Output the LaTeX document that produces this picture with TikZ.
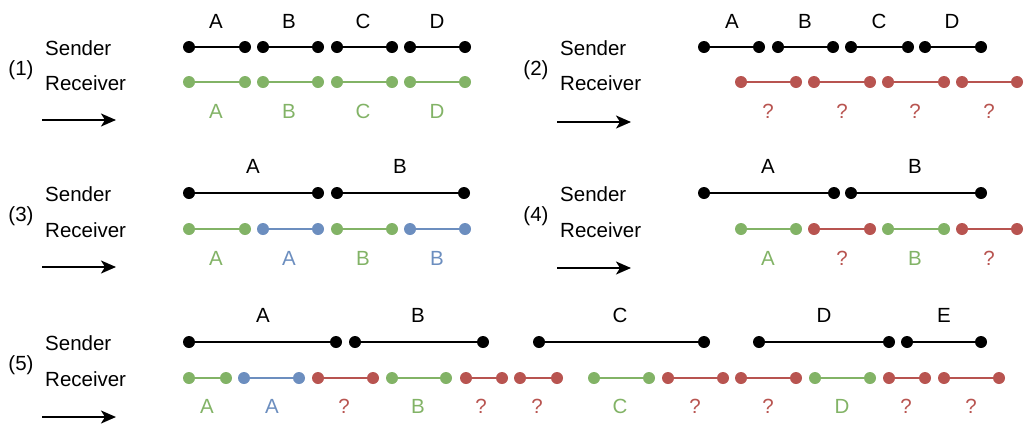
\documentclass[tikz,border=0pt]{standalone}
\usepackage{fontspec}
\setmainfont{Liberation Sans}
\usetikzlibrary{arrows.meta}
\definecolor{cgreen}{HTML}{82B366}
\definecolor{cblue}{HTML}{6C8EBF}
\definecolor{cred}{HTML}{B85450}
\tikzset{
  dotnode/.style={circle,inner sep=0pt,minimum size=12pt,draw=none},
  segline/.style={line width=1.6pt},
  txt/.style={font=\fontsize{20.5}{24}\selectfont,inner sep=0pt,anchor=base},
  rowtxt/.style={txt,anchor=base west},
  timearrow/.style={line width=1.8pt,-{Stealth[length=15pt,width=13pt,inset=4pt]}},
}
\newcommand\seg[5]{%
  \node[dotnode,fill=#5] (#1a) at (#2,#4) {};
  \node[dotnode,fill=#5] (#1b) at (#3,#4) {};
  \draw[segline,#5] (#1a) -- (#1b);
}
\newcommand\panel[6]{% id, label, textx, sendery, receivery, arrow y
  \node[txt] (num#1) at (#3-24,#4+28) {#2};
  \node[rowtxt] (snd#1) at (#3,#4+8) {Sender};
  \node[rowtxt] (rcv#1) at (#3,#5+8) {Receiver};
  \coordinate (arA#1) at (#3-3,#6);
  \coordinate (arB#1) at (#3+71,#6);
  \draw[timearrow] (arA#1) -- (arB#1);
}
\newcommand\lbl[5]{\node[txt,text=#4] (#1) at (#2,#3) {#5};}
\begin{document}
\begin{tikzpicture}[x=1pt,y=-1pt]
\useasboundingbox (0,0) rectangle (1025,424);
% ---------- Panel 1
\panel{1}{(1)}{45}{47}{82}{120}
\seg{p1s1}{189}{245}{47}{black}
\seg{p1s2}{263}{318}{47}{black}
\seg{p1s3}{337}{392}{47}{black}
\seg{p1s4}{410}{465}{47}{black}
\seg{p1r1}{189}{245}{82}{cgreen}
\seg{p1r2}{263}{318}{82}{cgreen}
\seg{p1r3}{337}{392}{82}{cgreen}
\seg{p1r4}{410}{465}{82}{cgreen}
\lbl{p1t1}{216}{28}{black}{A}
\lbl{p1t2}{289}{28}{black}{B}
\lbl{p1t3}{363}{28}{black}{C}
\lbl{p1t4}{437}{28}{black}{D}
\lbl{p1b1}{216}{118}{cgreen}{A}
\lbl{p1b2}{289}{118}{cgreen}{B}
\lbl{p1b3}{363}{118}{cgreen}{C}
\lbl{p1b4}{437}{118}{cgreen}{D}
% ---------- Panel 2
\panel{2}{(2)}{560}{47}{82}{122}
\seg{p2s1}{704}{759}{47}{black}
\seg{p2s2}{778}{833}{47}{black}
\seg{p2s3}{851}{908}{47}{black}
\seg{p2s4}{925}{981}{47}{black}
\seg{p2r1}{741}{796}{82}{cred}
\seg{p2r2}{814}{870}{82}{cred}
\seg{p2r3}{888}{944}{82}{cred}
\seg{p2r4}{962}{1017}{82}{cred}
\lbl{p2t1}{732}{28}{black}{A}
\lbl{p2t2}{805}{28}{black}{B}
\lbl{p2t3}{879}{28}{black}{C}
\lbl{p2t4}{952}{28}{black}{D}
\lbl{p2b1}{768}{118}{cred}{?}
\lbl{p2b2}{842}{118}{cred}{?}
\lbl{p2b3}{915}{118}{cred}{?}
\lbl{p2b4}{989}{118}{cred}{?}
% ---------- Panel 3
\panel{3}{(3)}{45}{193}{229}{267}
\seg{p3s1}{189}{318}{193}{black}
\seg{p3s2}{337}{464}{193}{black}
\seg{p3r1}{189}{245}{229}{cgreen}
\seg{p3r2}{263}{318}{229}{cblue}
\seg{p3r3}{337}{392}{229}{cgreen}
\seg{p3r4}{410}{465}{229}{cblue}
\lbl{p3t1}{253}{173}{black}{A}
\lbl{p3t2}{400}{173}{black}{B}
\lbl{p3b1}{216}{265}{cgreen}{A}
\lbl{p3b2}{289}{265}{cblue}{A}
\lbl{p3b3}{363}{265}{cgreen}{B}
\lbl{p3b4}{437}{265}{cblue}{B}
% ---------- Panel 4
\panel{4}{(4)}{560}{193}{229}{268}
\seg{p4s1}{704}{834}{193}{black}
\seg{p4s2}{851}{981}{193}{black}
\seg{p4r1}{741}{796}{229}{cgreen}
\seg{p4r2}{814}{870}{229}{cred}
\seg{p4r3}{888}{944}{229}{cgreen}
\seg{p4r4}{962}{1017}{229}{cred}
\lbl{p4t1}{768}{173}{black}{A}
\lbl{p4t2}{915}{173}{black}{B}
\lbl{p4b1}{768}{265}{cgreen}{A}
\lbl{p4b2}{842}{265}{cred}{?}
\lbl{p4b3}{915}{265}{cgreen}{B}
\lbl{p4b4}{989}{265}{cred}{?}
% ---------- Panel 5
\panel{5}{(5)}{45}{342}{378}{417}
\seg{p5s1}{189}{336}{342}{black}
\seg{p5s2}{355}{483}{342}{black}
\seg{p5s3}{539}{704}{342}{black}
\seg{p5s4}{759}{889}{342}{black}
\seg{p5s5}{907}{981}{342}{black}
\seg{p5r1}{189}{226}{378}{cgreen}
\seg{p5r2}{244}{299}{378}{cblue}
\seg{p5r3}{318}{373}{378}{cred}
\seg{p5r4}{392}{446}{378}{cgreen}
\seg{p5r5}{466}{502}{378}{cred}
\seg{p5r6}{520}{557}{378}{cred}
\seg{p5r7}{594}{649}{378}{cgreen}
\seg{p5r8}{668}{723}{378}{cred}
\seg{p5r9}{741}{796}{378}{cred}
\seg{p5r10}{815}{870}{378}{cgreen}
\seg{p5r11}{889}{925}{378}{cred}
\seg{p5r12}{944}{999}{378}{cred}
\lbl{p5t1}{263}{322}{black}{A}
\lbl{p5t2}{418}{322}{black}{B}
\lbl{p5t3}{620}{322}{black}{C}
\lbl{p5t4}{824}{322}{black}{D}
\lbl{p5t5}{944}{322}{black}{E}
\lbl{p5b1}{207}{413}{cgreen}{A}
\lbl{p5b2}{272}{413}{cblue}{A}
\lbl{p5b3}{344}{413}{cred}{?}
\lbl{p5b4}{418}{413}{cgreen}{B}
\lbl{p5b5}{481}{413}{cred}{?}
\lbl{p5b6}{537}{413}{cred}{?}
\lbl{p5b7}{620}{413}{cgreen}{C}
\lbl{p5b8}{695}{413}{cred}{?}
\lbl{p5b9}{768}{413}{cred}{?}
\lbl{p5b10}{842}{413}{cgreen}{D}
\lbl{p5b11}{906}{413}{cred}{?}
\lbl{p5b12}{971}{413}{cred}{?}
\end{tikzpicture}
\end{document}
